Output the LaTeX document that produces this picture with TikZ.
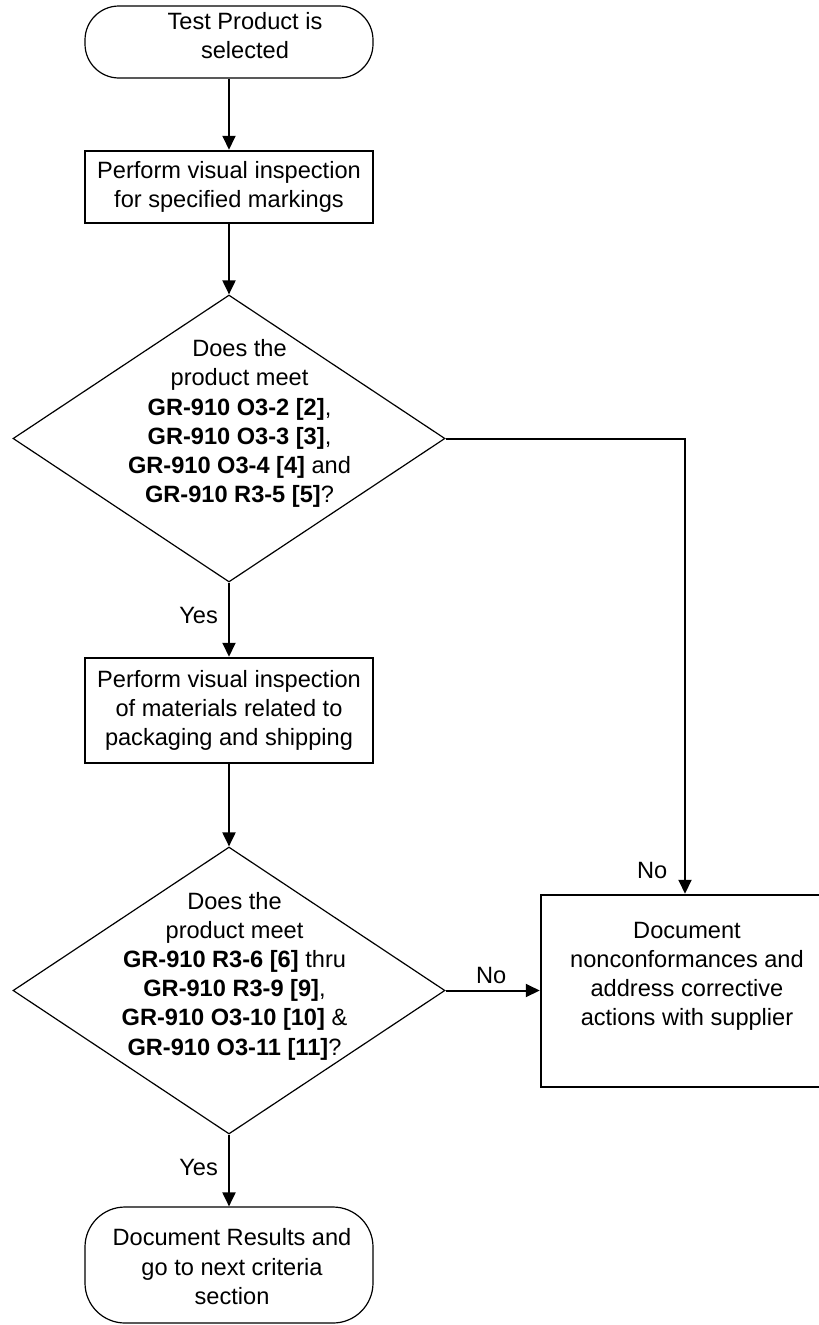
\documentclass[tikz,border=0pt]{standalone}
\usepackage{fontspec}
\setmainfont{Liberation Sans}
\usetikzlibrary{shapes.geometric,arrows.meta}
\begin{document}
\begin{tikzpicture}[x=1pt,y=-1pt,
  font=\fontsize{23.6}{29.2}\selectfont,
  term/.style={draw, line width=1.2pt, rounded corners=34pt, minimum width=288pt, inner sep=0pt},
  proc/.style={draw, line width=2.5pt, minimum width=288pt, align=center, inner sep=0pt},
  dec/.style={draw, diamond, line width=1.2pt, minimum width=432pt, minimum height=287pt, inner sep=0pt},
  txt/.style={align=center, inner sep=0pt},
  lbl/.style={inner sep=0pt},
  flow/.style={line width=2pt, -{Triangle[length=14pt,width=13pt]}}]
\useasboundingbox (0,0) rectangle (819,1325);

% shapes
\node[term, minimum height=72pt] (t1) at (229,42) {};
\node[txt] (t1t) at (245,35.6) {Test Product is\\selected};

\node[proc, minimum height=72pt] (b1) at (229,187) {Perform visual inspection\\for specified markings};

\node[dec] (d1) at (229,438.5) {};
\node[txt] (d1t) at (239.5,423.5) {Does the\\product meet\\\textbf{GR-910 O3-2 [2]},\\\textbf{GR-910 O3-3 [3]},\\\textbf{GR-910 O3-4 [4]} and\\\textbf{GR-910 R3-5 [5]}?};

\node[proc, minimum height=105pt] (b2) at (229,710.5) {Perform visual inspection\\of materials related to\\packaging and shipping};

\node[dec] (d2) at (229,990.5) {};
\node[txt] (d2t) at (234.5,976) {Does the\\product meet\\\textbf{GR-910 R3-6 [6]} thru\\\textbf{GR-910 R3-9 [9]},\\\textbf{GR-910 O3-10 [10]} \&\\\textbf{GR-910 O3-11 [11]}?};

\node[term, rounded corners=40pt, minimum height=116pt] (t2) at (229,1265) {};
\node[txt] (t2t) at (232,1266.7) {Document Results and\\go to next criteria\\section};

\node[proc, minimum height=192pt] (nc) at (685,991) {};
\node[txt] (nct) at (687,976.5) {Document\\nonconformances and\\address corrective\\actions with supplier};

% connectors
\draw[flow] (t1) -- (b1);
\draw[flow] (b1) -- (d1);
\draw[flow] (d1) -- (b2);
\draw[flow] (b2) -- (d2);
\draw[flow] (d2) -- (t2);
\draw[flow] (d1.east) -| (nc.north);
\draw[flow] (d2.east) -- (d2.east -| nc.west);

% labels
\node[lbl, anchor=base east] (y1) at (218,623) {Yes};
\node[lbl, anchor=base east] (y2) at (218,1175) {Yes};
\node[lbl, anchor=base west] (n1) at (637,878) {No};
\node[lbl, anchor=base west] (n2) at (476,983.5) {No};
\end{tikzpicture}
\end{document}
